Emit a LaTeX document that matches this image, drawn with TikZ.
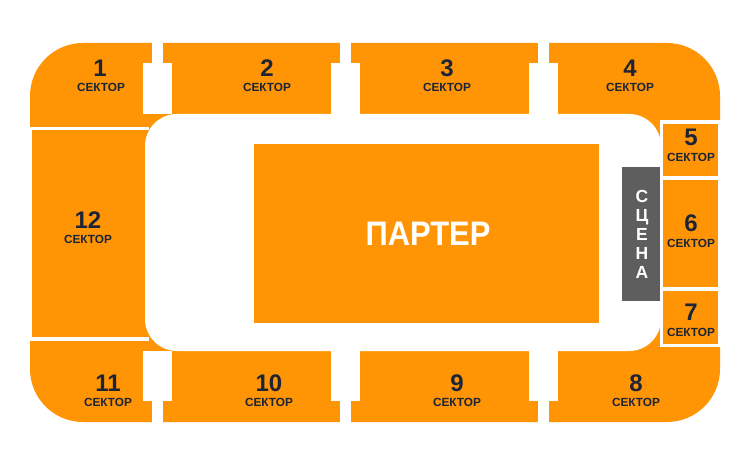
\documentclass[tikz,border=0pt]{standalone}
\usepackage{fontspec}
\setmainfont{Liberation Sans}
\definecolor{seatorange}{HTML}{FF9505}
\definecolor{stagegrey}{HTML}{5E5E5E}
\definecolor{labelnavy}{HTML}{1C2436}
\tikzset{
	seat/.style={fill=seatorange},
	pass/.style={fill=white},
	secnum/.style={inner sep=0,outer sep=0,text=labelnavy,font=\bfseries\fontsize{24}{24}\selectfont},
	seclabel/.style={inner sep=0,outer sep=0,text=labelnavy,font=\bfseries\fontsize{11.8}{12}\selectfont}
}
\begin{document}
\begin{tikzpicture}[x=1pt,y=-1pt]
	\useasboundingbox (0,0) rectangle (750,465);
	\fill[white] (0,0) rectangle (750,465);
	\fill[seat,rounded corners=53pt] (30,43) rectangle (720,422);
	\fill[pass] (29,127) rectangle (149,341);
	\fill[seat] (32,130) rectangle (149,337);
	\fill[pass] (660,120) rectangle (721,347);
	\fill[seat] (663,124) rectangle (718,176);
	\fill[seat] (663,180) rectangle (718,287);
	\fill[seat] (663,291) rectangle (718,344);
	\fill[pass,rounded corners=32pt] (145,114) rectangle (661,351);
	\fill[pass] (143,63) rectangle (172,114);
	\fill[pass] (152,42) rectangle (163,63);
	\fill[pass] (331,63) rectangle (360,114);
	\fill[pass] (340,42) rectangle (351,63);
	\fill[pass] (529,63) rectangle (558,114);
	\fill[pass] (538,42) rectangle (549,63);
	\fill[pass] (143,351) rectangle (172,401);
	\fill[pass] (152,401) rectangle (163,423);
	\fill[pass] (331,351) rectangle (360,401);
	\fill[pass] (340,401) rectangle (351,423);
	\fill[pass] (529,351) rectangle (558,401);
	\fill[pass] (538,401) rectangle (549,423);
	\fill[seat] (254,144) rectangle (599,323);
	\fill[stagegrey] (622,167) rectangle (660,301);
	\node[inner sep=0,xscale=.91,text=white,font=\bfseries\fontsize{34}{34}\selectfont] (parter) at (428,233.5) {ПАРТЕР};
	\node[inner sep=0,align=center,text=white,font=\bfseries\fontsize{17.5}{19}\selectfont] (stage) at (642,234) {С\\Ц\\Е\\Н\\А};
	\node[secnum] (n1) at (100,68) {1};
	\node[seclabel] (c1) at (101,87.5) {СЕКТОР};
	\node[secnum] (n2) at (267,68) {2};
	\node[seclabel] (c2) at (267,87.5) {СЕКТОР};
	\node[secnum] (n3) at (447,68) {3};
	\node[seclabel] (c3) at (447,87.5) {СЕКТОР};
	\node[secnum] (n4) at (630,68) {4};
	\node[seclabel] (c4) at (630,87.5) {СЕКТОР};
	\node[secnum] (n5) at (691,137.5) {5};
	\node[seclabel] (c5) at (691,157.5) {СЕКТОР};
	\node[secnum] (n6) at (691,223.5) {6};
	\node[seclabel] (c6) at (691,243.5) {СЕКТОР};
	\node[secnum] (n7) at (691,312.5) {7};
	\node[seclabel] (c7) at (691,332.5) {СЕКТОР};
	\node[secnum] (n8) at (636,383) {8};
	\node[seclabel] (c8) at (636,402.5) {СЕКТОР};
	\node[secnum] (n9) at (457,383) {9};
	\node[seclabel] (c9) at (457,402.5) {СЕКТОР};
	\node[secnum] (n10) at (269,383) {10};
	\node[seclabel] (c10) at (269,402.5) {СЕКТОР};
	\node[secnum] (n11) at (108,383) {11};
	\node[seclabel] (c11) at (108,402.5) {СЕКТОР};
	\node[secnum] (n12) at (88,220) {12};
	\node[seclabel] (c12) at (88,239.5) {СЕКТОР};
\end{tikzpicture}
\end{document}
